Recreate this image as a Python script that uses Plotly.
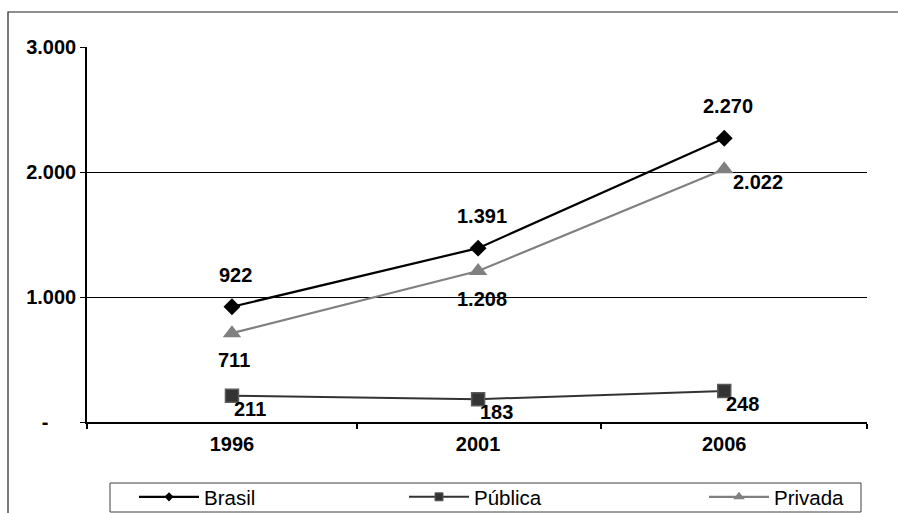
import plotly.graph_objects as go

# Série histórica por categoria administrativa
anos = ["1996", "2001", "2006"]
brasil = [922, 1391, 2270]
publica = [211, 183, 248]
privada = [711, 1208, 2022]

y_ticks = [0, 1000, 2000, 3000]
y_labels = ["-\u00a0\u00a0\u00a0\u00a0\u00a0", "1.000", "2.000", "3.000"]

FONT = "Liberation Sans, Arial, sans-serif"
xs = list(range(len(anos)))

# plot area in pixels (used to convert paper coordinates)
L, R, T, B = 87, 31, 47, 91
W, H = 898, 513
PW, PH = W - L - R, H - T - B


def px(x):
    return (x - L) / PW


def py(y):
    return (H - B - y) / PH


def fmt(v):
    return f"{v:,}".replace(",", ".")


series = [
    dict(name="Brasil", y=brasil, legend="legend",
         line=dict(color="#000000", width=2.2),
         marker=dict(symbol="diamond", size=13, color="#000000"),
         leg_size=7),
    dict(name="Pública", y=publica, legend="legend2",
         line=dict(color="#333333", width=2),
         marker=dict(symbol="square", size=13, color="#333333",
                     line=dict(color="#5a5a5a", width=1.5)),
         leg_size=8),
    dict(name="Privada", y=privada, legend="legend3",
         line=dict(color="#808080", width=2.2),
         marker=dict(symbol="triangle-up", size=16, color="#808080"),
         leg_size=10),
]

fig = go.Figure()
for s in series:
    fig.add_trace(go.Scatter(
        x=xs, y=s["y"], name=s["name"], mode="lines+markers",
        line=s["line"], marker=s["marker"], showlegend=False,
    ))
    # legend entry with a smaller symbol
    leg_marker = dict(s["marker"], size=s["leg_size"])
    if "line" in leg_marker:
        leg_marker["line"] = dict(leg_marker["line"], width=1)
    fig.add_trace(go.Scatter(
        x=[None], y=[None], name=s["name"], mode="lines+markers",
        line=s["line"], marker=leg_marker, legend=s["legend"],
        showlegend=True, hoverinfo="skip",
    ))

# Rótulos de dados
label_font = dict(family=FONT, size=20, color="#000000", weight="bold")
ann = []
for i, v in enumerate(brasil):
    ann.append(dict(x=xs[i], y=v, text=fmt(v), showarrow=False,
                    xshift=4, yshift=32, font=label_font))
priv_shift = [(2, -27), (4, -28), (34, -13)]
for i, v in enumerate(privada):
    dx, dy = priv_shift[i]
    ann.append(dict(x=xs[i], y=v, text=fmt(v), showarrow=False,
                    xshift=dx, yshift=dy, font=label_font))
for i, v in enumerate(publica):
    ann.append(dict(x=xs[i], y=v, text=fmt(v), showarrow=False,
                    xshift=18, yshift=-13, font=label_font))

leg_common = dict(
    orientation="h", xanchor="left", yanchor="middle", y=py(497),
    bgcolor="rgba(0,0,0,0)", borderwidth=0, itemwidth=60,
    font=dict(family=FONT, size=20.5, color="#000000"),
)

fig.update_layout(
    width=W, height=H,
    margin=dict(l=L, r=R, t=T, b=B, autoexpand=False),
    paper_bgcolor="#ffffff", plot_bgcolor="#ffffff",
    font=dict(family=FONT, size=20, color="#000000"),
    showlegend=True,
    legend=dict(leg_common, x=px(134)),
    legend2=dict(leg_common, x=px(404)),
    legend3=dict(leg_common, x=px(704)),
    annotations=ann,
    shapes=[
        # outer chart frame
        dict(type="rect", xref="paper", yref="paper",
             x0=px(8), x1=px(1000), y0=py(600), y1=py(12),
             line=dict(color="#202020", width=1.2), layer="below"),
        # legend frame
        dict(type="rect", xref="paper", yref="paper",
             x0=px(110), x1=px(861), y0=py(512), y1=py(483),
             line=dict(color="#404040", width=1), layer="below"),
    ],
)

fig.update_xaxes(
    range=[-0.589, 2.58],
    tickmode="array", tickvals=xs, ticktext=anos, ticks="",
    ticklabelstandoff=3,
    tickfont=dict(family=FONT, size=20, color="#000000", weight="bold"),
    showline=True, linecolor="#000000", linewidth=1.5,
    showgrid=False, zeroline=False, fixedrange=True,
    minor=dict(tickmode="array", tickvals=[-0.589, 0.508, 1.5, 2.58],
               ticks="outside", ticklen=5, tickcolor="#000000", tickwidth=1.5,
               showgrid=False),
)
fig.update_yaxes(
    range=[0, 3000],
    tickmode="array", tickvals=y_ticks, ticktext=y_labels,
    ticks="outside", ticklen=5, tickcolor="#000000", tickwidth=1.2,
    tickfont=dict(family=FONT, size=20, color="#000000", weight="bold"),
    showline=True, linecolor="#000000", linewidth=1.5,
    showgrid=True, gridcolor="#000000", gridwidth=1.2,
    zeroline=False, fixedrange=True,
)

fig.write_html("out.html")
